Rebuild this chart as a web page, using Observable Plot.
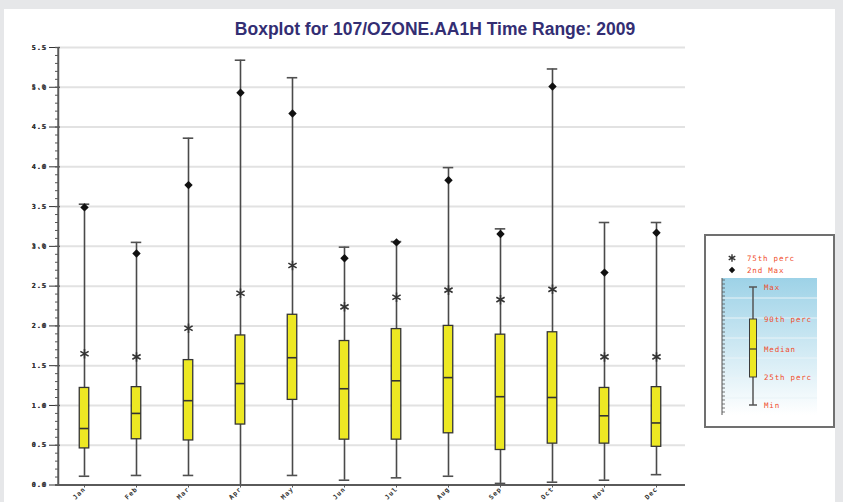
<!DOCTYPE html>
<html><head><meta charset="utf-8">
<script src="https://cdn.jsdelivr.net/npm/d3@7"></script>
<script src="https://cdn.jsdelivr.net/npm/@observablehq/plot@0.6"></script>
<style>
html,body{margin:0;padding:0;}
body{width:843px;height:502px;background:#e6e7e9;position:relative;overflow:hidden;font-family:"Liberation Sans",Arial,sans-serif;}
#panel{position:absolute;left:4px;top:9px;width:831px;height:493px;background:#fff;}
#title{position:absolute;left:35px;width:800px;top:19px;text-align:center;font:bold 17.5px "Liberation Sans",Arial,sans-serif;color:#332e73;}
#chart{position:absolute;left:0;top:40px;}
#chart svg text{letter-spacing:1px;}
#legend{position:absolute;left:704px;top:234px;}
#legend text{letter-spacing:0.8px;}
</style></head><body>
<div id="panel"></div>
<div id="title">Boxplot for 107/OZONE.AA1H Time Range: 2009</div>
<div id="chart"></div>
<div id="legend"></div>
<script>
const months = ["Jan","Feb","Mar","Apr","May","Jun","Jul","Aug","Sep","Oct","Nov","Dec"];
const maxVals   = [3.53, 3.05, 4.36, 5.34, 5.12, 2.99, 3.06, 3.99, 3.22, 5.23, 3.30, 3.30];
const secondMax = [3.49, 2.91, 3.77, 4.93, 4.67, 2.85, 3.05, 3.83, 3.155, 5.01, 2.67, 3.17];
const p75       = [1.65, 1.61, 1.97, 2.41, 2.76, 2.24, 2.36, 2.45, 2.33, 2.46, 1.61, 1.61];
const p90       = [1.22, 1.23, 1.57, 1.88, 2.14, 1.81, 1.96, 2.00, 1.89, 1.92, 1.22, 1.23];
const medians   = [0.71, 0.90, 1.06, 1.275, 1.60, 1.21, 1.31, 1.35, 1.11, 1.10, 0.87, 0.78];
const p25       = [0.46, 0.575, 0.56, 0.76, 1.07, 0.57, 0.57, 0.65, 0.44, 0.52, 0.52, 0.48];
const minVals   = [0.11, 0.12, 0.12, 0.0, 0.12, 0.06, 0.09, 0.11, 0.02, 0.035, 0.06, 0.13];
const yTicks = [0, 0.5, 1, 1.5, 2, 2.5, 3, 3.5, 4, 4.5, 5, 5.5];
const yMinorTicks = d3.range(0, 56).map(i => i / 10);
const legendItems = ["75th perc", "2nd Max"];
const legendBoxLabels = ["Max", "90th perc", "Median", "25th perc", "Min"];

const rows = months.map((m, i) => ({
  month: m, max: maxVals[i], second: secondMax[i], p75: p75[i],
  p90: p90[i], median: medians[i], p25: p25[i], min: minVals[i]
}));

const W = 700, ML = 55, MR = 15;
const frameW = W - ML - MR;
const band = frameW / months.length;
const boxInset = (band - 10) / 2;
const capInset = (band - 11) / 2;
const font = "'DejaVu Sans Mono', monospace";

const chart = Plot.plot({
  width: W, height: 460,
  marginLeft: ML, marginRight: MR, marginTop: 7, marginBottom: 15.5,
  style: {overflow: "visible", background: "transparent", fontFamily: font, fontSize: "6.5px", fontWeight: "bold", color: "#333"},
  x: {domain: months, type: "band", padding: 0},
  y: {domain: [0, 5.5]},
  marks: [
    Plot.ruleY(yTicks.slice(1), {stroke: "#e2e2e2", strokeWidth: 2, insetLeft: 3}),
    Plot.ruleX(rows, {x: "month", y1: "min", y2: "max", stroke: "#4a4a4a", strokeWidth: 1.6}),
    Plot.tickY(rows, {x: "month", y: "max", insetLeft: capInset, insetRight: capInset, stroke: "#505050", strokeWidth: 1.6}),
    Plot.tickY(rows, {x: "month", y: "min", insetLeft: capInset, insetRight: capInset, stroke: "#505050", strokeWidth: 1.6}),
    Plot.barY(rows, {x: "month", y1: "p25", y2: "p90", fill: "#ede823", stroke: "#353535", strokeWidth: 1.3, insetLeft: boxInset, insetRight: boxInset}),
    Plot.tickY(rows, {x: "month", y: "median", insetLeft: boxInset, insetRight: boxInset, stroke: "#333", strokeWidth: 1.6}),
    Plot.dot(rows, {x: "month", y: "p75", symbol: "asterisk", r: 4.5, stroke: "#333", strokeWidth: 1.6}),
    Plot.dot(rows, {x: "month", y: "second", symbol: "diamond2", r: 3.8, fill: "#111", stroke: "none"}),
    Plot.ruleY(yMinorTicks, {stroke: "#555", strokeWidth: 1, insetRight: frameW - 3}),
    Plot.ruleY(yTicks, {stroke: "#555", strokeWidth: 1.3, insetRight: frameW - 5}),
    Plot.ruleY([0], {stroke: "#5a5a5a", strokeWidth: 2}),
    Plot.ruleX([months[0]], {dx: -band / 2, y1: 0, y2: 5.5, stroke: "#5a5a5a", strokeWidth: 2}),
    Plot.text(yTicks, {y: d => d, text: d => d.toFixed(1), frameAnchor: "left", dx: -8, textAnchor: "end", fill: "#333", fontFamily: font, fontSize: 7, fontWeight: "bold"}),
    Plot.axisX({tickSize: 3, tickPadding: 0, tickRotate: -45, stroke: "#555", fill: "#333", label: null, fontSize: 6.5})
  ]
});
document.getElementById("chart").append(chart);

// Legend
const lg = d3.select("#legend").append("svg").attr("width", 131).attr("height", 194);
const defs = lg.append("defs");
const grad = defs.append("linearGradient").attr("id", "lgGrad").attr("x1", 0).attr("y1", 0).attr("x2", 0).attr("y2", 1);
grad.append("stop").attr("offset", "0%").attr("stop-color", "#9dd2e7");
grad.append("stop").attr("offset", "100%").attr("stop-color", "#ffffff");
lg.append("rect").attr("x", 1).attr("y", 1).attr("width", 129).attr("height", 192)
  .attr("fill", "#fff").attr("stroke", "#707070").attr("stroke-width", 2);
const red = "#f04d2c";
const legendY = [24, 36];
lg.append("path").attr("d", d3.symbol(d3.symbolAsterisk, 40)()).attr("transform", `translate(28,${legendY[0]})`)
  .attr("fill", "none").attr("stroke", "#333").attr("stroke-width", 1.4);
lg.append("path").attr("d", d3.symbol(d3.symbolDiamond2, 26)()).attr("transform", `translate(28,${legendY[1]})`)
  .attr("fill", "#111");
legendItems.forEach((t, i) => {
  lg.append("text").attr("x", 43).attr("y", legendY[i] + 2.5).text(t)
    .attr("fill", red).attr("font-family", font).attr("font-size", 7.5);
});
lg.append("rect").attr("x", 18).attr("y", 44).attr("width", 95).attr("height", 137).attr("fill", "url(#lgGrad)");
for (let y = 64; y < 180; y += 20) {
  lg.append("line").attr("x1", 18).attr("x2", 113).attr("y1", y).attr("y2", y).attr("stroke", "#e9f3f7").attr("stroke-width", 1);
}
lg.append("line").attr("x1", 18).attr("x2", 18).attr("y1", 44).attr("y2", 181).attr("stroke", "#555").attr("stroke-width", 1);
for (let y = 46; y <= 180; y += 4) {
  lg.append("line").attr("x1", 18).attr("x2", 21).attr("y1", y).attr("y2", y).attr("stroke", "#555").attr("stroke-width", 0.8);
}
const bx = 49;
const levels = [53, 85, 115, 143, 171];
lg.append("line").attr("x1", bx).attr("x2", bx).attr("y1", levels[0]).attr("y2", levels[4]).attr("stroke", "#555").attr("stroke-width", 1.5);
[levels[0], levels[4]].forEach(y => lg.append("line").attr("x1", bx - 4).attr("x2", bx + 4).attr("y1", y).attr("y2", y).attr("stroke", "#555").attr("stroke-width", 1.5));
lg.append("rect").attr("x", bx - 3.5).attr("y", levels[1]).attr("width", 7).attr("height", levels[3] - levels[1])
  .attr("fill", "#ede823").attr("stroke", "#3c3c3c").attr("stroke-width", 1);
lg.append("line").attr("x1", bx - 3.5).attr("x2", bx + 3.5).attr("y1", levels[2]).attr("y2", levels[2]).attr("stroke", "#333").attr("stroke-width", 1.2);
legendBoxLabels.forEach((t, i) => {
  lg.append("text").attr("x", 60).attr("y", levels[i] + 2.5).text(t)
    .attr("fill", red).attr("font-family", font).attr("font-size", 7.5);
});
</script>
</body></html>
